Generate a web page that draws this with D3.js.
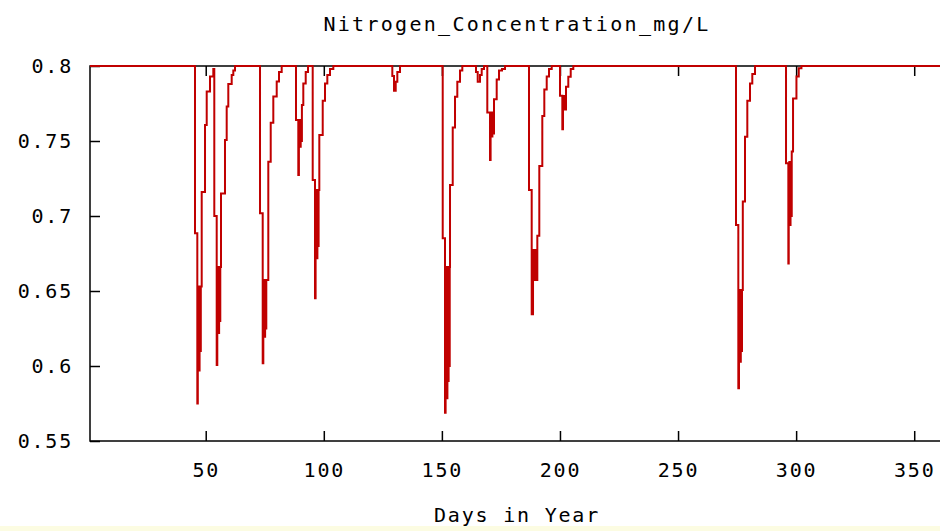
<!DOCTYPE html>
<html>
<head>
<meta charset="utf-8">
<script src="https://cdn.jsdelivr.net/npm/d3@7"></script>
<style>
  body { margin: 0; background: #fff; }
  text { font-family: "DejaVu Sans Mono", monospace; fill: #000; }
</style>
</head>
<body>
<div id="scene"></div>
<script>
// day of year (fractional where the logger stepped inside a day)
var dayOfYear = [
  1,
  45.46, 46.44, 46.65, 46.90, 47.15, 47.40, 47.66, 47.92, 48.30, 49.70, 50.42, 51.81, 53.21,
  53.63, 54.65, 54.90, 55.15, 55.41, 55.67, 55.92, 56.17, 56.47, 58.16, 58.88, 59.56, 61.00, 61.68, 62.40,
  72.99, 74.13, 74.39, 74.64, 74.89, 75.15, 75.40, 75.65, 76.50, 77.52, 78.62, 80.06, 81.03, 82.17,
  88.23, 89.20, 89.46, 89.71, 89.97, 90.22, 90.47, 90.73, 91.32, 92.34, 93.32,
  95.30, 96.27, 96.53, 96.78, 97.04, 97.29, 97.55, 97.80, 98.10, 99.54, 100.51, 101.49, 102.63, 104.03,
  129.01, 129.73, 130.45, 131.13, 132.27,
  150.35, 151.32, 151.58, 151.83, 152.09, 152.34, 152.59, 152.85, 153.10, 153.32, 153.44, 154.59, 155.56, 156.53, 157.68, 158.65,
  164.45, 165.17, 166.14, 166.86, 167.84,
  169.23, 170.38, 170.63, 170.88, 171.14, 171.39, 171.65, 172.07, 173.21, 174.19, 175.46, 176.73,
  186.89, 188.03, 188.59, 188.84, 189.10, 189.35, 189.60, 189.86, 190.11, 190.41, 191.25, 192.52, 193.37, 194.39, 195.36, 196.51,
  200.02, 201.00, 201.29, 201.54, 201.80, 202.05, 202.31, 202.56, 203.53, 204.55, 205.65,
  274.54, 275.52, 275.81, 276.07, 276.32, 276.57, 276.83, 277.08, 277.42, 278.35, 279.33, 280.47, 281.44, 282.59,
  295.72, 296.70, 296.87, 297.12, 297.38, 297.63, 297.89, 298.14, 298.69, 300.13, 301.11, 302.25,
  366
];

var nitrogenMgL = [
  0.8,
  0.6885, 0.575, 0.597, 0.653, 0.597, 0.653, 0.61, 0.653, 0.716, 0.7607, 0.783, 0.793, 0.798,
  0.700, 0.6007, 0.622, 0.666, 0.622, 0.666, 0.63, 0.666, 0.715, 0.7507, 0.773, 0.788, 0.794, 0.797, 0.8,
  0.7018, 0.6018, 0.6195, 0.6573, 0.6195, 0.6573, 0.625, 0.6573, 0.7362, 0.7622, 0.7796, 0.7896, 0.796, 0.8,
  0.764, 0.7273, 0.7462, 0.764, 0.7462, 0.764, 0.750, 0.774, 0.7884, 0.796, 0.8,
  0.724, 0.6451, 0.6718, 0.7173, 0.6718, 0.7173, 0.68, 0.7173, 0.754, 0.7769, 0.7884, 0.794, 0.798, 0.8,
  0.7933, 0.7835, 0.7895, 0.796, 0.8,
  0.6851, 0.5689, 0.5785, 0.666, 0.5785, 0.666, 0.59, 0.666, 0.60, 0.666, 0.7207, 0.759, 0.7795, 0.7895, 0.797, 0.8,
  0.796, 0.7895, 0.794, 0.798, 0.8,
  0.769, 0.7373, 0.753, 0.769, 0.753, 0.769, 0.755, 0.7778, 0.791, 0.797, 0.798, 0.8,
  0.7173, 0.6345, 0.6573, 0.6773, 0.6573, 0.6773, 0.66, 0.6773, 0.6573, 0.6869, 0.7333, 0.7667, 0.7844, 0.793, 0.798, 0.8,
  0.7802, 0.7578, 0.771, 0.780, 0.771, 0.780, 0.771, 0.7862, 0.7929, 0.798, 0.8,
  0.694, 0.5851, 0.6029, 0.6507, 0.6029, 0.6507, 0.61, 0.6507, 0.7096, 0.7529, 0.7769, 0.7884, 0.7947, 0.8,
  0.7351, 0.6684, 0.694, 0.736, 0.694, 0.736, 0.70, 0.743, 0.7784, 0.793, 0.7985, 0.8,
  0.8
];

var xTicks = [50, 100, 150, 200, 250, 300, 350];
var yTicks = [0.55, 0.6, 0.65, 0.7, 0.75, 0.8];
var chartTitle = "Nitrogen_Concentration_mg/L";
var xTitle = "Days in Year";

var ctx = {
  w: 940,
  h: 531,
  left: 90,
  right: 952,
  top: 66,
  bottom: 441
};

var svg = d3.select("#scene").append("svg")
  .attr("width", ctx.w)
  .attr("height", ctx.h);

// pale strip along the bottom of the screenshot
svg.append("rect")
  .attr("x", 0).attr("y", 526)
  .attr("width", ctx.w).attr("height", 5)
  .attr("fill", "#fcfce2");

var x = d3.scaleLinear().domain([1, 366]).range([ctx.left, ctx.right]);
var y = d3.scaleLinear().domain([0.55, 0.8]).range([ctx.bottom, ctx.top]);

// frame
svg.append("rect")
  .attr("x", ctx.left).attr("y", ctx.top)
  .attr("width", ctx.right - ctx.left).attr("height", ctx.bottom - ctx.top)
  .attr("fill", "none").attr("stroke", "#000").attr("stroke-width", 1.5);

function styleAxis(g) {
  g.select(".domain").remove();
  g.selectAll(".tick line").attr("stroke", "#000").attr("stroke-width", 1.5);
  g.selectAll(".tick text").attr("fill", "#000")
    .style("font-size", "20px").style("letter-spacing", "1.8px");
}

svg.append("g")
  .attr("transform", "translate(0," + ctx.bottom + ")")
  .call(d3.axisBottom(x).tickValues(xTicks).tickSize(-10).tickPadding(22).tickFormat(d3.format("d")))
  .call(styleAxis);

svg.append("g")
  .attr("transform", "translate(0," + ctx.top + ")")
  .call(d3.axisTop(x).tickValues(xTicks).tickSize(-10).tickFormat(""))
  .call(styleAxis);

svg.append("g")
  .attr("transform", "translate(" + ctx.left + ",0)")
  .call(d3.axisLeft(y).tickValues(yTicks).tickSize(-10).tickPadding(17).tickFormat(function(d) { return String(+d.toFixed(2)); }))
  .call(styleAxis);

svg.append("g")
  .attr("transform", "translate(" + ctx.right + ",0)")
  .call(d3.axisRight(y).tickValues(yTicks).tickSize(-10).tickFormat(""))
  .call(styleAxis);

// data line
svg.append("clipPath").attr("id", "plotClip")
  .append("rect")
  .attr("x", ctx.left).attr("y", ctx.top - 2)
  .attr("width", ctx.right - ctx.left).attr("height", ctx.bottom - ctx.top + 2);

var points = dayOfYear.map(function(d, i) { return [d, nitrogenMgL[i]]; });

var line = d3.line()
  .x(function(d) { return x(d[0]); })
  .y(function(d) { return y(d[1]); })
  .curve(d3.curveStepAfter);

svg.append("path")
  .datum(points)
  .attr("clip-path", "url(#plotClip)")
  .attr("d", line)
  .attr("fill", "none")
  .attr("stroke", "#c00000")
  .attr("stroke-width", 2);

// titles
svg.append("text")
  .attr("x", 517).attr("y", 31)
  .attr("text-anchor", "middle")
  .style("font-size", "20px").style("letter-spacing", "2.3px")
  .text(chartTitle);

svg.append("text")
  .attr("x", 517).attr("y", 522)
  .attr("text-anchor", "middle")
  .style("font-size", "20px").style("letter-spacing", "1.8px")
  .text(xTitle);
</script>
</body>
</html>
